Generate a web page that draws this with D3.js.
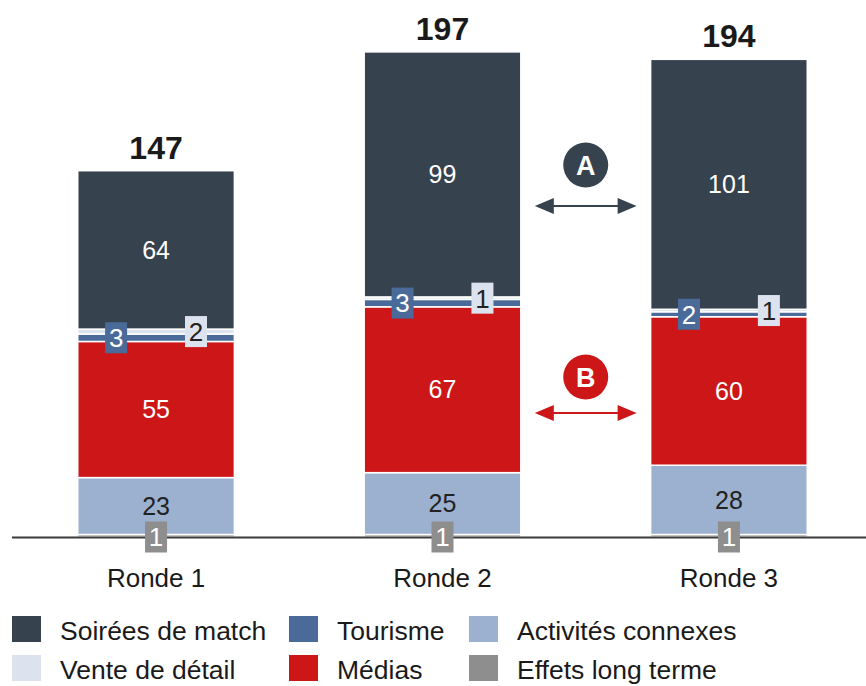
<!DOCTYPE html>
<html><head><meta charset="utf-8">
<script src="https://cdn.jsdelivr.net/npm/d3@7"></script>
<style>body{margin:0;background:#fff;} svg{display:block;font-family:"Liberation Sans",Arial,sans-serif;}</style>
</head><body><svg id="c" width="866" height="686"></svg>
<script>
const categories = ["Ronde 1", "Ronde 2", "Ronde 3"];
const totals = [147, 197, 194];
const seriesNames = ["Effets long terme", "Activités connexes", "Médias", "Tourisme", "Vente de détail", "Soirées de match"];
const effets = [1, 1, 1];
const activites = [23, 25, 28];
const medias = [55, 67, 60];
const tourisme = [3, 3, 2];
const vente = [2, 1, 1];
const soirees = [64, 99, 101];
const colors = {"Soirées de match":"#37424f","Tourisme":"#4a6a9a","Activités connexes":"#9cb0cf","Vente de détail":"#dde3ee","Médias":"#cc1618","Effets long terme":"#8e8e8e"};
const legendOrder = [["Soirées de match","Tourisme","Activités connexes"],["Vente de détail","Médias","Effets long terme"]];

const seriesValues = [effets, activites, medias, tourisme, vente, soirees];
const data = categories.map((c,i)=>{const o={cat:c}; seriesNames.forEach((s,j)=>o[s]=seriesValues[j][i]); return o;});
const stack = d3.stack().keys(seriesNames)(data);

const svg = d3.select("#c");
const x = d3.scaleBand().domain(categories).range([12, 873]).paddingInner(0.4532).paddingOuter(0.2295);
const y = d3.scaleLinear().domain([0, 200]).range([537, 42]);

const g = svg.append("g");
stack.forEach(layer=>{
  g.selectAll(null).data(layer).enter().append("rect")
    .attr("x", d=>x(d.data.cat)).attr("width", x.bandwidth())
    .attr("y", d=>y(d[1])).attr("height", d=>Math.max(0, y(d[0])-y(d[1])))
    .attr("fill", colors[layer.key]).attr("stroke","#fff").attr("stroke-width",1.5);
});

// axis baseline
svg.append("line").attr("x1",12).attr("x2",866).attr("y1",537.5).attr("y2",537.5).attr("stroke","#3a3a3a").attr("stroke-width",2);

// big segment labels
const big = [["Activités connexes","#222"],["Médias","#fff"],["Soirées de match","#fff"]];
big.forEach(([k,col])=>{
  const layer = stack.find(l=>l.key===k);
  g.selectAll(null).data(layer).enter().append("text")
    .attr("x", d=>x(d.data.cat)+x.bandwidth()/2).attr("y", d=>(y(d[0])+y(d[1]))/2)
    .attr("dy","0.35em").attr("text-anchor","middle").attr("font-size",25).attr("fill",col)
    .text(d=>d.data[k]);
});

// small boxed labels
const boxes = [["Tourisme",0.245,"#4a6a9a","#fff"],["Vente de détail",0.755,"#dde3ee","#222"],["Effets long terme",0.5,"#8e8e8e","#fff"]];
boxes.forEach(([k,fx,bg,fg])=>{
  const layer = stack.find(l=>l.key===k);
  layer.forEach(d=>{
    const cx = x(d.data.cat)+x.bandwidth()*fx;
    const cy = k==="Effets long terme" ? y(0) : (y(d[0])+y(d[1]))/2;
    svg.append("rect").attr("x",cx-11).attr("y",cy-15.5).attr("width",22).attr("height",31).attr("fill",bg);
    svg.append("text").attr("x",cx).attr("y",cy).attr("dy","0.36em").attr("text-anchor","middle")
      .attr("font-size",26).attr("fill",fg).text(d.data[k]);
  });
});

// totals
svg.selectAll(null).data(data).enter().append("text")
  .attr("x",(d)=>x(d.cat)+x.bandwidth()/2)
  .attr("y",(d,i)=>y(d3.sum(seriesNames,s=>d[s]))-12)
  .attr("text-anchor","middle").attr("font-size",32).attr("font-weight","bold").attr("fill","#1a1a1a")
  .text((d,i)=>totals[i]);

// category labels
svg.selectAll(null).data(categories).enter().append("text")
  .attr("x",d=>x(d)+x.bandwidth()/2).attr("y",587).attr("text-anchor","middle")
  .attr("font-size",26).attr("fill","#1a1a1a").text(d=>d);

// comparison arrows
function arrow(cy, color, label, ly){
  const x1 = x("Ronde 2")+x.bandwidth()+14, x2 = x("Ronde 3")-14;
  svg.append("line").attr("x1",x1+8).attr("x2",x2-8).attr("y1",cy).attr("y2",cy).attr("stroke",color).attr("stroke-width",2);
  svg.append("path").attr("d",`M${x1},${cy} L${x1+19},${cy-8} L${x1+19},${cy+8} Z`).attr("fill",color);
  svg.append("path").attr("d",`M${x2},${cy} L${x2-19},${cy-8} L${x2-19},${cy+8} Z`).attr("fill",color);
  const mx=(x1+x2)/2;
  svg.append("circle").attr("cx",mx).attr("cy",ly).attr("r",22.5).attr("fill",color);
  svg.append("text").attr("x",mx).attr("y",ly).attr("dy","0.36em").attr("text-anchor","middle")
    .attr("font-size",27).attr("font-weight","bold").attr("fill","#fff").text(label);
}
arrow(206,"#37424f","A",165);
arrow(413,"#cc1618","B",377);

// legend
const colX = [12, 289, 469];
legendOrder.forEach((row,r)=>{
  row.forEach((name,c)=>{
    const lg = svg.append("g").attr("transform",`translate(${colX[c]},${616+r*39})`);
    lg.append("rect").attr("width",29).attr("height",26).attr("fill",colors[name]);
    lg.append("text").attr("x",48).attr("y",14).attr("dy","0.36em").attr("font-size",26.5).attr("fill","#1a1a1a").text(name);
  });
});
</script></body></html>
